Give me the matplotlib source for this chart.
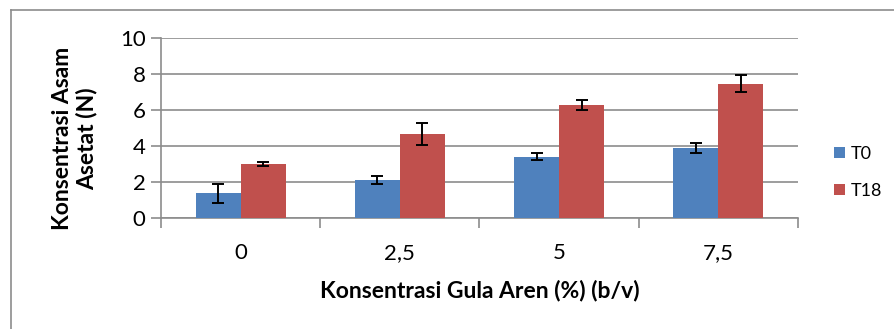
import matplotlib
matplotlib.use('Agg')
import matplotlib.pyplot as plt
from matplotlib.lines import Line2D
import numpy as np

plt.rcParams['font.family'] = ['Lato', 'DejaVu Sans']

categories = ['0', '2,5', '5', '7,5']
t0 = [1.38, 2.12, 3.40, 3.89]
t0_err = [0.53, 0.23, 0.19, 0.26]
t18 = [3.00, 4.67, 6.27, 7.46]
t18_err = [0.11, 0.61, 0.27, 0.47]

W, H = 895, 329
fig = plt.figure(figsize=(W / 100, H / 100), dpi=100)

# outer chart frame (only left and top edges visible)
fig.add_artist(Line2D([11 / W, 11 / W], [0, 1 - 10 / H], transform=fig.transFigure,
                      color='#8c8c8c', lw=1.2))
fig.add_artist(Line2D([11 / W, 1], [1 - 10 / H, 1 - 10 / H], transform=fig.transFigure,
                      color='#8c8c8c', lw=1.2))

left, right, top, bottom = 161, 798, 38, 218
ax = fig.add_axes([left / W, 1 - bottom / H, (right - left) / W, (bottom - top) / H])

x = np.arange(len(categories))
w = 0.283
err_kw = dict(ecolor='black', elinewidth=1.4, capsize=4.3, capthick=1.4)
ax.bar(x - w / 2, t0, w, yerr=t0_err, color='#4F81BD', label='T0', error_kw=err_kw, zorder=3)
ax.bar(x + w / 2, t18, w, yerr=t18_err, color='#C0504D', label='T18', error_kw=err_kw, zorder=3)

ax.set_xlim(-0.5, len(categories) - 0.5)
ax.set_ylim(0, 10)
ax.set_yticks(np.arange(0, 11, 2))
ax.set_xticks(x)
ax.set_xticklabels(categories)
ax.set_xticks(np.arange(-0.5, len(categories)), minor=True)
ax.tick_params(axis='x', which='major', length=0, labelsize=16, pad=18)
ax.tick_params(axis='x', which='minor', length=7, color='#8c8c8c', width=1.2)
ax.tick_params(axis='y', length=7, color='#8c8c8c', width=1.2, labelsize=16, pad=4)

ax.grid(axis='y', color='#8c8c8c', lw=1.2, zorder=0)
ax.set_axisbelow(True)
for s in ['top', 'right']:
    ax.spines[s].set_visible(False)
for s in ['left', 'bottom']:
    ax.spines[s].set_color('#8c8c8c')
    ax.spines[s].set_linewidth(1.2)

ax.set_xlabel('Konsentrasi Gula Aren (%) (b/v)', fontsize=16.5, fontweight='bold', labelpad=12)
ax.set_ylabel('Konsentrasi Asam\nAsetat (N)', fontsize=16.5, fontweight='bold', labelpad=16,
              linespacing=1.15)
ax.yaxis.label.set_y(0.44)

ax.legend(loc='center left', bbox_to_anchor=(1.056, 0.253), frameon=False, fontsize=13,
          borderpad=0, borderaxespad=0,
          handlelength=0.6, handleheight=0.6, handletextpad=0.35, labelspacing=1.15)

fig.savefig('out.png', dpi=100)
